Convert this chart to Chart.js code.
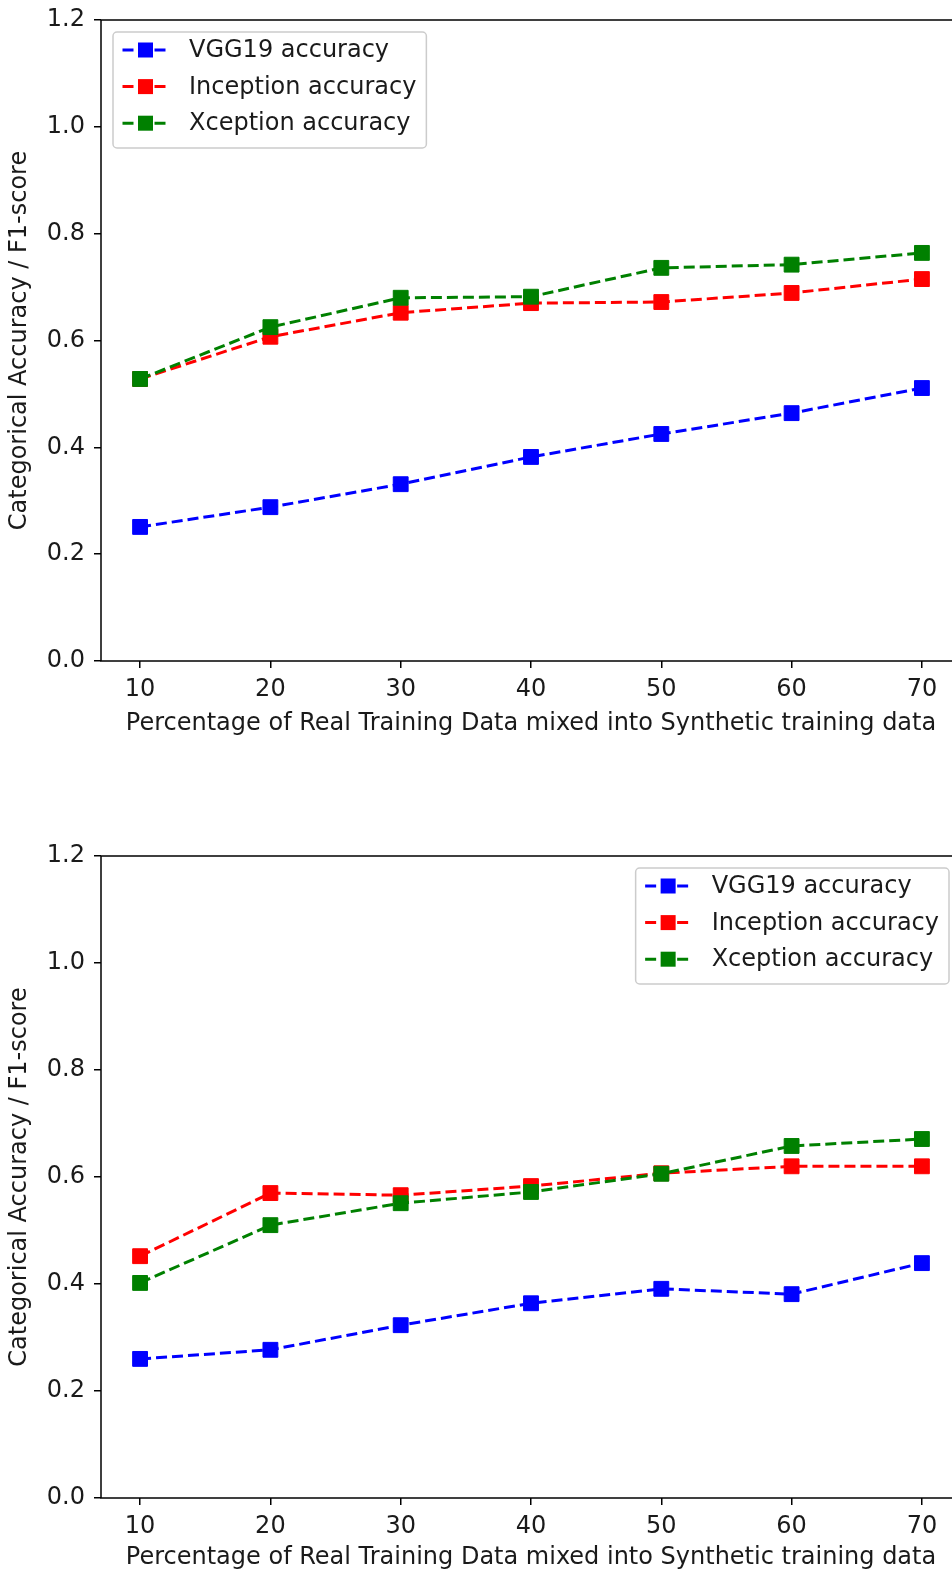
<!DOCTYPE html>
<html>
<head>
<meta charset="utf-8">
<script src="https://cdn.jsdelivr.net/npm/chart.js@4.4.1/dist/chart.umd.min.js"></script>
<style>
  html, body { margin: 0; padding: 0; background: #fff; overflow: hidden; }
  body { width: 952px; height: 1574px; position: relative; }
  canvas { position: absolute; left: 0; }
  #topChart { top: 0; }
  #bottomChart { top: 787px; }
</style>
</head>
<body>
<canvas id="topChart" width="980" height="787"></canvas>
<canvas id="bottomChart" width="980" height="787"></canvas>
<script>
// x categories and tick labels
const percentages = [10, 20, 30, 40, 50, 60, 70];
const yTicks = [0, 0.2, 0.4, 0.6, 0.8, 1.0, 1.2];
const seriesNames = ['VGG19 accuracy', 'Inception accuracy', 'Xception accuracy'];
const seriesColors = ['#0000ff', '#ff0000', '#008000'];

// upper plot
const vgg19Top = [0.251, 0.288, 0.331, 0.382, 0.425, 0.464, 0.511];
const inceptionTop = [0.528, 0.607, 0.652, 0.670, 0.672, 0.689, 0.715];
const xceptionTop = [0.528, 0.625, 0.680, 0.682, 0.736, 0.742, 0.764];

// lower plot
const vgg19Bottom = [0.260, 0.277, 0.323, 0.364, 0.391, 0.381, 0.439];
const inceptionBottom = [0.452, 0.570, 0.566, 0.583, 0.607, 0.620, 0.620];
const xceptionBottom = [0.402, 0.510, 0.551, 0.572, 0.606, 0.658, 0.671];

const FONT = '"DejaVu Sans", "Liberation Sans", sans-serif';
const FONT_SIZE = 24;
const TEXT = '#1a1a1a';

// matplotlib style box around the plot area
const frame = {
    id: 'frame',
    afterDatasetsDraw(chart) {
        const { ctx, chartArea: a } = chart;
        ctx.save();
        ctx.strokeStyle = '#000';
        ctx.lineWidth = 1.5;
        ctx.strokeRect(a.left, a.top, a.right - a.left, a.bottom - a.top);
        ctx.restore();
    }
};

// legend drawn inside the plot, like plt.legend()
const boxLegend = {
    id: 'boxLegend',
    afterDraw(chart, args, opts) {
        const { ctx, chartArea: a } = chart;
        const sets = chart.data.datasets;
        ctx.save();
        ctx.font = FONT_SIZE + 'px ' + FONT;
        const textW = Math.max(...sets.map(d => ctx.measureText(d.label).width));
        const w = 76 + textW + 10, h = 116;
        const x = opts.corner === 'right' ? a.right - 12 - w : a.left + 12;
        const y = a.top + 12;

        ctx.beginPath();
        ctx.roundRect(x, y, w, h, 4);
        ctx.fillStyle = 'rgba(255,255,255,0.8)';
        ctx.fill();
        ctx.strokeStyle = '#cccccc';
        ctx.lineWidth = 1.5;
        ctx.stroke();

        sets.forEach((d, i) => {
            const cy = y + 18 + i * 36.6;
            ctx.setLineDash(d.borderDash);
            ctx.strokeStyle = d.borderColor;
            ctx.lineWidth = d.borderWidth;
            ctx.beginPath();
            ctx.moveTo(x + 9.5, cy);
            ctx.lineTo(x + 55.5, cy);
            ctx.stroke();
            ctx.setLineDash([]);
            ctx.fillStyle = d.borderColor;
            ctx.fillRect(x + 32.5 - 7.5, cy - 7.5, 15, 15);
            ctx.fillStyle = TEXT;
            ctx.textBaseline = 'middle';
            ctx.fillText(d.label, x + 76, cy + 1);
        });
        ctx.restore();
    }
};

function makeChart(id, series, corner, padTop, xAxisHeight, titlePad) {
    const datasets = series.map((vals, i) => ({
        label: seriesNames[i],
        data: percentages.map((p, j) => ({ x: p, y: vals[j] })),
        borderColor: seriesColors[i],
        backgroundColor: seriesColors[i],
        pointBackgroundColor: seriesColors[i],
        pointBorderColor: seriesColors[i],
        borderWidth: 3,
        borderDash: [11, 5],
        pointStyle: 'rect',
        pointRadius: 10.5,
        pointBorderWidth: 1,
        tension: 0,
        order: series.length - i
    }));

    return new Chart(document.getElementById(id), {
        type: 'line',
        data: { datasets },
        plugins: [frame, boxLegend],
        options: {
            responsive: false,
            animation: false,
            events: [],
            layout: { padding: { left: 0, top: padTop, right: 19, bottom: 0 } },
            plugins: {
                legend: { display: false },
                tooltip: { enabled: false },
                boxLegend: { corner }
            },
            scales: {
                x: {
                    type: 'linear',
                    min: 7,
                    max: 73,
                    afterBuildTicks: s => { s.ticks = percentages.map(v => ({ value: v })); },
                    afterFit: s => { s.height = xAxisHeight; },
                    border: { display: false },
                    grid: { drawOnChartArea: false, tickLength: 7, color: '#000', lineWidth: 1.5 },
                    ticks: { color: TEXT, font: { family: FONT, size: FONT_SIZE }, padding: 7, maxRotation: 0,
                             callback: v => String(v) },
                    title: {
                        display: true,
                        text: 'Percentage of Real Training Data mixed into Synthetic training data',
                        color: TEXT,
                        font: { family: FONT, size: FONT_SIZE },
                        padding: { top: 0, bottom: titlePad }
                    }
                },
                y: {
                    min: 0,
                    max: 1.2,
                    afterBuildTicks: s => { s.ticks = yTicks.map(v => ({ value: v })); },
                    afterFit: s => { s.width = 101; s.paddingTop = 0; s.paddingBottom = 0; },
                    border: { display: false },
                    grid: { drawOnChartArea: false, tickLength: 7, color: '#000', lineWidth: 1.5 },
                    ticks: { color: TEXT, font: { family: FONT, size: FONT_SIZE }, padding: 9,
                             callback: v => v.toFixed(1) },
                    title: {
                        display: true,
                        text: 'Categorical Accuracy / F1-score',
                        color: TEXT,
                        font: { family: FONT, size: FONT_SIZE },
                        padding: { top: 5, bottom: 0 }
                    }
                }
            }
        }
    });
}

makeChart('topChart', [vgg19Top, inceptionTop, xceptionTop], 'left', 20, 126, 49);
makeChart('bottomChart', [vgg19Bottom, inceptionBottom, xceptionBottom], 'right', 69, 76, 2);
</script>
</body>
</html>
